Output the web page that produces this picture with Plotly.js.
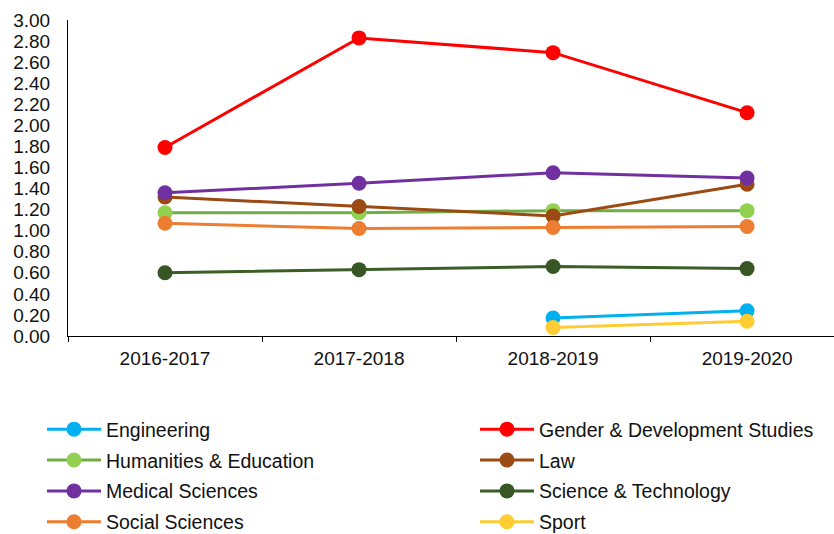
<!DOCTYPE html>
<html>
<head>
<meta charset="utf-8">
<script src="https://cdn.plot.ly/plotly-3.0.1.min.js"></script>
<style>html,body{margin:0;padding:0;background:#fff;}#chart{width:834px;height:534px;}</style>
</head>
<body>
<div id="chart"></div>
<script>
const years = ["2016-2017", "2017-2018", "2018-2019", "2019-2020"];
const engineering = [null, null, 0.17, 0.24];
const gender = [1.79, 2.83, 2.69, 2.12];
const humanities = [1.17, 1.17, 1.19, 1.19];
const law = [1.32, 1.23, 1.14, 1.44];
const medical = [1.36, 1.45, 1.55, 1.50];
const scitech = [0.60, 0.63, 0.66, 0.64];
const social = [1.07, 1.02, 1.03, 1.04];
const sport = [null, null, 0.08, 0.14];
const yTicks = [0, 0.2, 0.4, 0.6, 0.8, 1.0, 1.2, 1.4, 1.6, 1.8, 2.0, 2.2, 2.4, 2.6, 2.8, 3.0];

const seriesDefs = [
  {name: "Engineering", y: engineering, line: "#00B0F0", marker: "#00B0F0", legend: "legend"},
  {name: "Gender & Development Studies", y: gender, line: "#FF0000", marker: "#FF0000", legend: "legend2"},
  {name: "Humanities & Education", y: humanities, line: "#70AD47", marker: "#92D050", legend: "legend"},
  {name: "Law", y: law, line: "#9A4A12", marker: "#9A4A12", legend: "legend2"},
  {name: "Medical Sciences", y: medical, line: "#7030A0", marker: "#7030A0", legend: "legend"},
  {name: "Science & Technology", y: scitech, line: "#3B5E27", marker: "#375623", legend: "legend2"},
  {name: "Social Sciences", y: social, line: "#ED7D31", marker: "#ED7D31", legend: "legend"},
  {name: "Sport", y: sport, line: "#FFCC33", marker: "#FFCC33", legend: "legend2"}
];

const traces = seriesDefs.map((s, i) => ({
  type: "scatter",
  mode: "lines+markers",
  x: years,
  y: s.y,
  name: s.name,
  legend: s.legend,
  legendgroup: "g" + i,
  connectgaps: false,
  line: {color: s.line, width: 3},
  marker: {color: s.marker, size: 15},
  cliponaxis: false
}));

const fontFam = "Liberation Sans, Arial, sans-serif";
const txtColor = "#111111";
const legendCommon = {
  orientation: "v",
  xref: "paper",
  yref: "paper",
  xanchor: "left",
  yanchor: "top",
  font: {family: fontFam, size: 19.5, color: txtColor},
  bgcolor: "rgba(0,0,0,0)",
  itemwidth: 54,
  tracegroupgap: 2.5,
  y: (336 - 410) / 316
};

const layout = {
  width: 834,
  height: 534,
  margin: {l: 68, r: 0, t: 20, b: 198, autoexpand: false},
  paper_bgcolor: "#fff",
  plot_bgcolor: "#fff",
  showlegend: true,
  font: {family: fontFam, color: txtColor},
  xaxis: {
    type: "category",
    range: [-0.5, 3.448],
    showgrid: false,
    zeroline: false,
    showline: true,
    linecolor: "#000",
    linewidth: 1,
    ticks: "outside",
    tickson: "boundaries",
    ticklen: 5,
    tickcolor: "#000",
    tickangle: 0,
    ticklabelstandoff: 5,
    tickfont: {family: fontFam, size: 19, color: txtColor}
  },
  yaxis: {
    range: [0, 3],
    tickvals: yTicks,
    ticktext: yTicks.map(v => v.toFixed(2)),
    showgrid: false,
    zeroline: false,
    showline: true,
    linecolor: "#000",
    linewidth: 1,
    ticks: "",
    ticklabelstandoff: 13,
    tickfont: {family: fontFam, size: 19, color: txtColor}
  },
  legend: Object.assign({}, legendCommon, {x: (42 - 68) / 766}),
  legend2: Object.assign({}, legendCommon, {x: (475 - 68) / 766})
};

Plotly.newPlot("chart", traces, layout, {displayModeBar: false, staticPlot: true});
</script>
</body>
</html>
